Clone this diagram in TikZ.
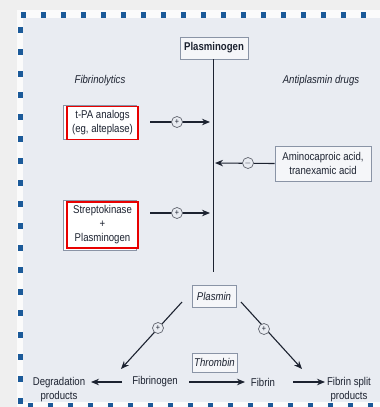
\documentclass[tikz,border=0pt]{standalone}
\usepackage{fontspec}
\setmainfont{Liberation Sans}[FakeStretch=0.85]
\usetikzlibrary{arrows.meta}
\definecolor{outerbg}{HTML}{EFEFEF}
\definecolor{stripbg}{HTML}{FBFBFB}
\definecolor{panelbg}{HTML}{E9ECF2}
\definecolor{dashblue}{HTML}{1B5A99}
\definecolor{ink}{HTML}{1C2230}
\definecolor{boxline}{HTML}{8A94A6}
\definecolor{boxfill}{HTML}{F5F6F9}
\definecolor{hired}{HTML}{E80000}
\tikzset{
  txt/.style={font=\fontsize{11.3}{14}\selectfont, text=ink, align=center, inner sep=0pt},
  ital/.style={txt, font=\fontsize{11.3}{14}\selectfont\itshape},
  graybox/.style={draw=boxline, fill=boxfill, line width=0.8pt},
  redbox/.style={draw=hired, fill=white, line width=1.6pt},
  conn/.style={draw=ink, line width=1.1pt, -{Stealth[length=8pt,width=6.5pt]}},
  plainline/.style={draw=ink, line width=0.8pt},
  sign/.style={circle, draw=ink!70, fill=panelbg, line width=0.7pt, minimum size=11pt, inner sep=0pt, font=\fontsize{8.5}{8.5}\selectfont, text=ink},
  sq/.style={fill=dashblue}
}
\begin{document}
\begin{tikzpicture}[x=1pt,y=-1pt]
\useasboundingbox (0,0) rectangle (380,407);
% backgrounds
\fill[outerbg] (0,0) rectangle (380,407);
\fill[stripbg] (17,10) rectangle (380,407);
\fill[panelbg] (23,18) rectangle (380,402);
% dashed border squares
\foreach \i in {0,...,17} { \fill[sq] ({21+20*\i},12) rectangle ++(5,6); }
\foreach \i in {0,...,17} { \fill[sq] (18,{27+21.8*\i}) rectangle ++(5,6); }
\foreach \i in {0,...,17} { \fill[sq] ({28+20*\i},403) rectangle ++(5,4); }

% Plasminogen
\node[graybox, minimum width=68pt, minimum height=22pt, inner sep=0pt,
  font=\fontsize{11.3}{12}\selectfont\bfseries, text=ink] (plg) at (214,48) {Plasminogen};
% Plasmin
\node[graybox, minimum width=44pt, minimum height=22pt, inner sep=0pt,
  font=\fontsize{11.3}{12}\selectfont\itshape, text=ink] (pls) at (214,296) {Plasmin};
\coordinate (lineend) at (213,272);
\draw[plainline] (plg.south -| lineend) -- (lineend);

% headings
\node[ital] (fibl) at (100,81) {Fibrinolytics};
\node[ital] (antip) at (321,81) {Antiplasmin drugs};

% t-PA box
\draw[graybox, fill=white] (63,105) rectangle (136,139);
\node[redbox, minimum width=71pt, minimum height=33pt, inner sep=0pt] (tpabox) at (102.5,123) {};
\node[txt] (tpa) at (tpabox.center) {t-PA analogs\\(eg, alteplase)};

% Streptokinase box
\draw[graybox, fill=white] (63,200) rectangle (136,250);
\node[redbox, minimum width=71pt, minimum height=46pt, inner sep=0pt] (skbox) at (102.5,225) {};
\node[txt] (sk) at (skbox.center) {Streptokinase\\+\\Plasminogen};

% Aminocaproic box
\node[graybox, fill=boxfill, minimum width=96pt, minimum height=35pt, inner sep=0pt, txt] (aca) at (323,163.5) {Aminocaproic acid,\\tranexamic acid};

% arrows into vertical line
\coordinate (a1s) at (150,122); \coordinate (a1e) at (210,122);
\draw[conn] (a1s) -- (a1e);
\node[sign] (s1) at (177,122) {+};
\coordinate (a2s) at (150,213); \coordinate (a2e) at (210,213);
\draw[conn] (a2s) -- (a2e);
\node[sign] (s2) at (177,213) {+};
\coordinate (a3e) at (215,163);
\draw[conn] (aca.west) -- (a3e);
\node[sign] (s3) at (248,163) {$-$};

% Thrombin
\node[graybox, minimum width=45pt, minimum height=19pt, inner sep=0pt,
  font=\fontsize{11.3}{12}\selectfont\itshape, text=ink] (thr) at (214.5,362.5) {Thrombin};

% bottom row
\node[txt] (fbg) at (155,382) {Fibrinogen};
\node[txt] (fbn) at (263,382) {Fibrin};
\node[txt] (deg) at (59,389.5) {Degradation\\products};
\node[txt] (fsp) at (349,389.5) {Fibrin split\\products};

\coordinate (d1s) at (182,302); \coordinate (d1e) at (121,369);
\draw[conn] (d1s) -- (d1e);
\node[sign] (s4) at (158,328) {+};
\coordinate (d2s) at (241,302); \coordinate (d2e) at (302,369);
\draw[conn] (d2s) -- (d2e);
\node[sign] (s5) at (264,329) {+};

\coordinate (b1s) at (122,382); \coordinate (b1e) at (91,382);
\draw[conn] (b1s) -- (b1e);
\coordinate (b2s) at (189,382); \coordinate (b2e) at (245,382);
\draw[conn] (b2s) -- (b2e);
\coordinate (b3s) at (293,382); \coordinate (b3e) at (325,382);
\draw[conn] (b3s) -- (b3e);
\end{tikzpicture}
\end{document}
